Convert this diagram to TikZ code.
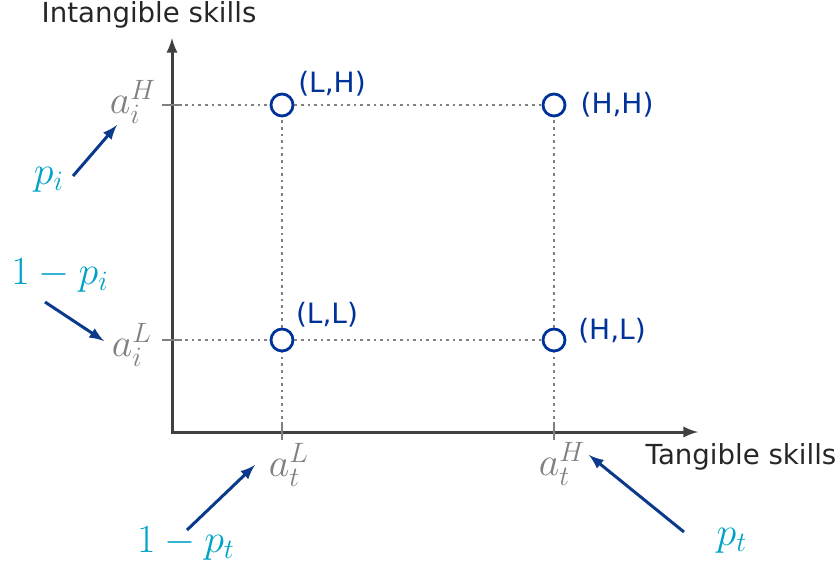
\RequirePackage{fix-cm}
\documentclass[tikz,border=0pt]{standalone}
\usepackage{fontspec}
\setmainfont{DejaVu Sans}
\usetikzlibrary{arrows}
\definecolor{axisgray}{HTML}{404040}
\definecolor{tickgray}{HTML}{808080}
\definecolor{pointblue}{HTML}{003399}
\definecolor{probcyan}{HTML}{00A3C6}
\definecolor{arrowblue}{HTML}{0B3A8C}
\tikzstyle{axis} = [
    line width=1.5pt,
    draw=axisgray,
    latex-latex
]
\tikzstyle{axislabel} = [
    text=black!85,
    font=\fontsize{13.8}{16}\selectfont
]
\tikzstyle{guide} = [
    line width=1.3pt,
    draw=tickgray,
    dotted
]
\tikzstyle{tickmark} = [
    line width=1.3pt,
    draw=tickgray
]
\tikzstyle{outcome} = [
    circle,
    draw=pointblue,
    fill=white,
    line width=1.4pt,
    minimum size=11pt,
    inner sep=0pt
]
\tikzstyle{pairlabel} = [
    text=pointblue,
    font=\fontsize{14}{16}\selectfont
]
\tikzstyle{level} = [
    text=tickgray,
    font=\fontsize{20}{22}\selectfont
]
\tikzstyle{prob} = [
    text=probcyan,
    font=\fontsize{20}{22}\selectfont
]
\tikzstyle{arrow} = [line width=1.5pt,draw=arrowblue,-latex]

\begin{document}
\begin{tikzpicture}[x=0.5pt, y=-0.5pt]
\useasboundingbox (0,0) rectangle (839,569);

% axes
\coordinate (origin) at (172,432);
\coordinate (ytip) at (172,38);
\coordinate (xtip) at (698,432);
\draw [axis] (ytip) -- (origin) -- (xtip);

\node (yname) [axislabel] at (149,15) {Intangible skills};
\node (xname) [axislabel] at (741,457) {Tangible skills};

% skill levels on the axes
\coordinate (yH) at (172,105);
\coordinate (yL) at (172,340);
\coordinate (xL) at (282,432);
\coordinate (xH) at (554,432);

\draw [tickmark] ([xshift=-5pt]yH) -- ([xshift=5pt]yH);
\draw [tickmark] ([xshift=-5pt]yL) -- ([xshift=5pt]yL);
\draw [tickmark] ([yshift=5pt]xL) -- ([yshift=-4pt]xL);
\draw [tickmark] ([yshift=5pt]xH) -- ([yshift=-4pt]xH);

\node (aiH) [level] at (133,102) {$a_i^H$};
\node (aiL) [level] at (132,345) {$a_i^L$};
\node (atL) [level] at (289,465) {$a_t^L$};
\node (atH) [level] at (562,464) {$a_t^H$};

% outcomes
\node (LH) [outcome] at (282,105) {};
\node (HH) [outcome] at (554,105) {};
\node (LL) [outcome] at (282,340) {};
\node (HL) [outcome] at (554,340) {};

\node (LHname) [pairlabel] at (332,84) {(L,H)};
\node (HHname) [pairlabel] at (617,105) {(H,H)};
\node (LLname) [pairlabel] at (327,315) {(L,L)};
\node (HLname) [pairlabel] at (612,331) {(H,L)};

\draw [guide] (yH) -- (LH);
\draw [guide] (LH) -- (HH);
\draw [guide] (yL) -- (LL);
\draw [guide] (LL) -- (HL);
\draw [guide] (xL) -- (LL);
\draw [guide] (LL) -- (LH);
\draw [guide] (xH) -- (HL);
\draw [guide] (HL) -- (HH);

% probabilities
\node (pi) [prob] at (49,180) {$p_i$};
\node (qi) [prob] at (60,275) {$1-p_i$};
\node (qt) [prob] at (186,543) {$1-p_t$};
\node (pt) [prob] at (732,541) {$p_t$};

\coordinate (piFrom) at (73,176);
\coordinate (piTo) at (117,125);
\coordinate (qiFrom) at (45,302);
\coordinate (qiTo) at (104,341);
\coordinate (qtFrom) at (187,530);
\coordinate (qtTo) at (255,465);
\coordinate (ptFrom) at (684,532);
\coordinate (ptTo) at (589,455);

\draw [arrow] (piFrom) -- (piTo);
\draw [arrow] (qiFrom) -- (qiTo);
\draw [arrow] (qtFrom) -- (qtTo);
\draw [arrow] (ptFrom) -- (ptTo);

\end{tikzpicture}
\end{document}
